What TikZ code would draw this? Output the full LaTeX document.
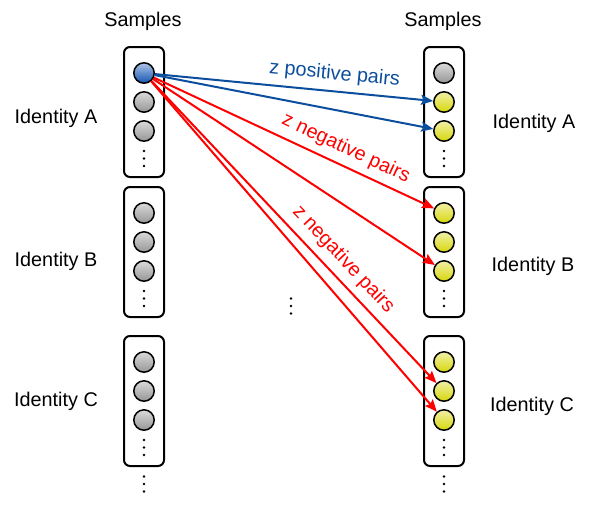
\documentclass[tikz,border=0pt]{standalone}
\usepackage{fontspec}
\setmainfont{Liberation Sans}
\usetikzlibrary{arrows.meta}
\definecolor{P}{RGB}{12,78,158}
\definecolor{N}{RGB}{255,0,0}
\definecolor{G}{RGB}{150,150,150}
\definecolor{Y}{RGB}{215,215,10}
\definecolor{B}{RGB}{20,85,180}
\tikzset{
  samplebox/.style={draw, line width=1pt, rounded corners=3pt, minimum width=20pt, minimum height=65pt},
  sample/.style={circle, draw, line width=0.75pt, minimum size=10.2pt, inner sep=0pt, top color=#1!35!white, bottom color=#1},
  pospair/.style={draw=P, line width=1pt, -{Stealth[length=6pt,width=5pt,inset=1pt]}},
  negpair/.style={draw=N, line width=1pt, -{Stealth[length=6pt,width=5pt,inset=1pt]}}
}
\newcommand{\dotsat}[2]{
    \foreach \d in {-7.5,0,7.5}{
    \fill (#1,#2+\d) circle (0.65pt);
    }
}
\newcommand{\samplecolumn}[6]{
    \node[samplebox] (#1) at (#2,#3) {};
    \node[sample=#4] (#11) at (#2,#3-39) {};
    \node[sample=#5] (#12) at (#2,#3-10) {};
    \node[sample=#6] (#13) at (#2,#3+19) {};
    \dotsat{#2}{#3+46.5}
}

\begin{document}
\begin{tikzpicture}[x=0.5pt, y=-0.5pt, font=\fontsize{9.9}{12}\selectfont]
\useasboundingbox (0,0) rectangle (589,510);
\node[anchor=base] (samplesL) at (143,26) {Samples};
\node[anchor=base] (samplesR) at (443,26) {Samples};
\samplecolumn{LA}{144}{112}{B}{G}{G}
\samplecolumn{LB}{144}{252}{G}{G}{G}
\samplecolumn{LC}{144}{401}{G}{G}{G}
\samplecolumn{RA}{444}{112}{G}{Y}{Y}
\samplecolumn{RB}{444}{252}{Y}{Y}{Y}
\samplecolumn{RC}{444}{401}{Y}{Y}{Y}
\dotsat{144}{484}\dotsat{444}{484}\dotsat{291}{306}
\node[anchor=base] (idLA) at (56,123) {Identity A};
\node[anchor=base] (idLB) at (56,266) {Identity B};
\node[anchor=base] (idLC) at (56,406) {Identity C};
\node[anchor=base] (idRA) at (534,128) {Identity A};
\node[anchor=base] (idRB) at (533,271) {Identity B};
\node[anchor=base] (idRC) at (532,411) {Identity C};
\draw[pospair] (LA1) -- node[sloped, above, pos=0.64, text=P] {z positive pairs} (RA2);
\draw[pospair] (LA1) -- (RA3);
\draw[negpair] (LA1) -- node[sloped, above, pos=0.66, text=N] {z negative pairs} (RB1);
\draw[negpair] (LA1) -- (RB3);
\draw[negpair] (LA1) -- node[sloped, above, pos=0.63, text=N] {z negative pairs} (RC2);
\draw[negpair] (LA1) -- (RC3);
\end{tikzpicture}
\end{document}
